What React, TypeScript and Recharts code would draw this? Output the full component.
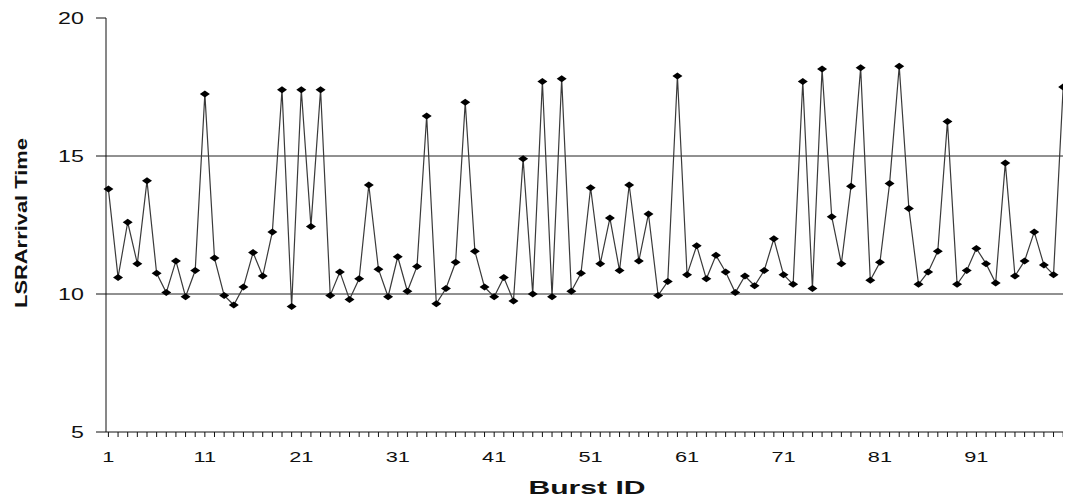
import React from 'react';
import {
  LineChart,
  Line,
  XAxis,
  YAxis,
  ReferenceLine,
} from 'recharts';

// LSR arrival time per burst
const arrivalTime: number[] = [
  13.8, 10.6, 12.6, 11.1, 14.1, 10.75, 10.05, 11.2, 9.9, 10.85,
  17.25, 11.3, 9.95, 9.6, 10.25, 11.5, 10.65, 12.25, 17.4, 9.55,
  17.4, 12.45, 17.4, 9.95, 10.8, 9.8, 10.55, 13.95, 10.9, 9.9,
  11.35, 10.1, 11.0, 16.45, 9.65, 10.2, 11.15, 16.95, 11.55, 10.25,
  9.9, 10.6, 9.75, 14.9, 10.0, 17.7, 9.9, 17.8, 10.1, 10.75,
  13.85, 11.1, 12.75, 10.85, 13.95, 11.2, 12.9, 9.95, 10.45, 17.9,
  10.7, 11.75, 10.55, 11.4, 10.8, 10.05, 10.65, 10.3, 10.85, 12.0,
  10.7, 10.35, 17.7, 10.2, 18.15, 12.8, 11.1, 13.9, 18.2, 10.5,
  11.15, 14.0, 18.25, 13.1, 10.35, 10.8, 11.55, 16.25, 10.35, 10.85,
  11.65, 11.1, 10.4, 14.75, 10.65, 11.2, 12.25, 11.05, 10.7, 17.5,
];

const xLabels: number[] = [1, 11, 21, 31, 41, 51, 61, 71, 81, 91];
const yTicks: number[] = [5, 10, 15, 20];
const gridValues: number[] = [10, 15];

const data = arrivalTime.map((t, i) => ({ id: i + 1, t }));
const allIds = data.map((d) => d.id);

const FONT = '"Liberation Sans", Arial, sans-serif';

const Diamond = (props: any) => {
  const { cx, cy } = props;
  if (cx == null || cy == null) return null;
  return (
    <polygon
      points={`${cx - 5},${cy} ${cx},${cy - 3.5} ${cx + 5},${cy} ${cx},${cy + 3.5}`}
      fill="#000"
    />
  );
};

const XTick = (props: any) => {
  const { x, y, payload } = props;
  if (!xLabels.includes(payload.value)) return null;
  return (
    <g transform={`translate(${x},${y}) scale(1.45,1)`}>
      <text x={0} y={23} textAnchor="middle" fontSize={15} fontFamily={FONT} fill="#111">
        {payload.value}
      </text>
    </g>
  );
};

const YTick = (props: any) => {
  const { x, y, payload } = props;
  return (
    <g transform={`translate(${x},${y}) scale(1.45,1)`}>
      <text x={-7} y={0} dy="0.36em" textAnchor="end" fontSize={16} fontFamily={FONT} fill="#111">
        {payload.value}
      </text>
    </g>
  );
};

const App: React.FC = () => {
  return (
    <LineChart
      width={1063}
      height={489}
      data={data}
      margin={{ top: 10, right: 3, bottom: 0, left: 0 }}
    >
      {gridValues.map((v) => (
        <ReferenceLine key={v} y={v} stroke="#222" strokeWidth={1} ifOverflow="extendDomain" />
      ))}
      <XAxis
        dataKey="id"
        type="number"
        domain={[0.75, 100.5]}
        ticks={allIds}
        interval={0}
        height={65}
        tickSize={5}
        tickMargin={2}
        stroke="#111"
        tick={<XTick />}
        label={{
          content: (p: any) => {
            const vb = p.viewBox;
            return (
              <text
                x={vb.x + vb.width / 2}
                y={486}
                textAnchor="middle"
                fontSize={18}
                fontWeight="bold"
                fontFamily={FONT}
                textLength={117}
                lengthAdjust="spacingAndGlyphs"
                fill="#111"
              >
                Burst ID
              </text>
            );
          },
        }}
      />
      <YAxis
        type="number"
        domain={[5, 20]}
        ticks={yTicks}
        width={98}
        tickSize={10}
        tickMargin={2}
        stroke="#111"
        tick={<YTick />}
        label={{
          content: (p: any) => {
            const vb = p.viewBox;
            const cy = vb.y + vb.height / 2;
            return (
              <text
                x={0}
                y={0}
                transform={`translate(19,${cy - 2}) rotate(-90)`}
                textAnchor="middle"
                fontSize={17}
                fontWeight="bold"
                fontFamily={FONT}
                textLength={170}
                lengthAdjust="spacingAndGlyphs"
                fill="#111"
              >
                LSRArrival Time
              </text>
            );
          },
        }}
      />
      <Line
        dataKey="t"
        stroke="#3a3a3a"
        strokeWidth={1.2}
        dot={<Diamond />}
        activeDot={false}
        isAnimationActive={false}
      />
    </LineChart>
  );
};

export default App;
